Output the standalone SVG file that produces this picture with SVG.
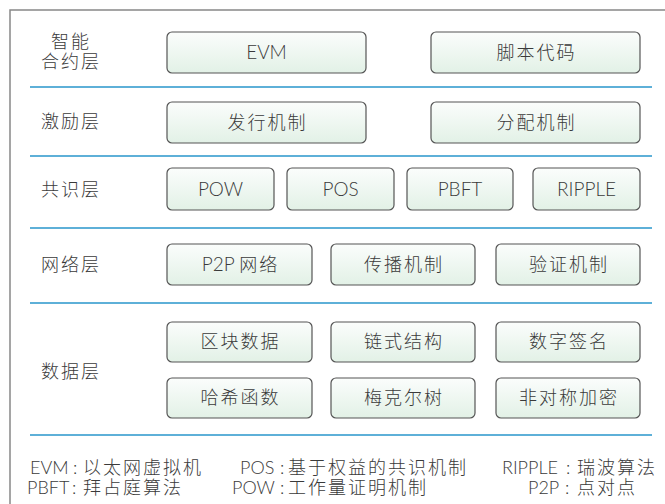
<svg xmlns="http://www.w3.org/2000/svg" width="665" height="504" viewBox="0 0 665 504">
<defs>
<linearGradient id="g" x1="0" y1="0" x2="0" y2="1">
<stop offset="0" stop-color="#fbfdfc"/>
<stop offset="1" stop-color="#e2f1e6"/>
</linearGradient>
</defs>
<style>
text{font-family:"Lato","Noto Sans CJK SC",sans-serif;font-size:18px;fill:#3a3a3a;font-weight:300}
.c{text-anchor:middle;letter-spacing:2px}
.e{text-anchor:middle;font-size:19px}
.k{letter-spacing:2px}
rect{fill:url(#g);stroke:#555;stroke-width:1.2}
.sep{stroke:#5eb0d8;stroke-width:2.2}
.frame{stroke:#888;stroke-width:1.5;fill:none}
</style>
<g id="frame">
<path class="frame" d="M10,504 V10 H665"/>
</g>
<g id="connectors">
<line class="sep" x1="30" y1="87" x2="652" y2="87"/>
<line class="sep" x1="30" y1="156" x2="652" y2="156"/>
<line class="sep" x1="30" y1="228" x2="652" y2="228"/>
<line class="sep" x1="30" y1="303" x2="652" y2="303"/>
<line class="sep" x1="30" y1="435" x2="652" y2="435"/>
</g>
<g id="labels">
<text class="c" x="71" y="48">智能</text>
<text class="c" x="71" y="68">合约层</text>
<text class="c" x="71" y="128">激励层</text>
<text class="c" x="71" y="196">共识层</text>
<text class="c" x="71" y="271">网络层</text>
<text class="c" x="71" y="378">数据层</text>
</g>
<g id="n-evm"><rect x="167" y="32" width="199" height="41" rx="5"/><text class="e" x="266.5" y="59">EVM</text></g>
<g id="n-script"><rect x="431" y="32" width="209" height="41" rx="5"/><text class="c" x="536.5" y="59">脚本代码</text></g>
<g id="n-issue"><rect x="167" y="102" width="199" height="41" rx="5"/><text class="c" x="267.5" y="129">发行机制</text></g>
<g id="n-dist"><rect x="431" y="102" width="209" height="41" rx="5"/><text class="c" x="536.5" y="129">分配机制</text></g>
<g id="n-pow"><rect x="167" y="168" width="107" height="42" rx="5"/><text class="e" x="220.5" y="196">POW</text></g>
<g id="n-pos"><rect x="287" y="168" width="107" height="42" rx="5"/><text class="e" x="340.5" y="196">POS</text></g>
<g id="n-pbft"><rect x="407" y="168" width="106" height="42" rx="5"/><text class="e" x="460" y="196">PBFT</text></g>
<g id="n-ripple"><rect x="533" y="168" width="107" height="42" rx="5"/><text class="e" x="586.5" y="196">RIPPLE</text></g>
<g id="n-p2p"><rect x="167" y="244" width="145" height="41" rx="5"/><text class="e" x="240.5" y="271">P2P <tspan class="k" style="font-size:18px">网络</tspan></text></g>
<g id="n-prop"><rect x="331" y="244" width="144" height="41" rx="5"/><text class="c" x="404" y="271">传播机制</text></g>
<g id="n-verify"><rect x="496" y="244" width="144" height="41" rx="5"/><text class="c" x="569" y="271">验证机制</text></g>
<g id="n-block"><rect x="167" y="322" width="145" height="40" rx="5"/><text class="c" x="240.5" y="348">区块数据</text></g>
<g id="n-chain"><rect x="331" y="322" width="144" height="40" rx="5"/><text class="c" x="404" y="348">链式结构</text></g>
<g id="n-sign"><rect x="496" y="322" width="144" height="40" rx="5"/><text class="c" x="569" y="348">数字签名</text></g>
<g id="n-hash"><rect x="167" y="378" width="145" height="40" rx="5"/><text class="c" x="240.5" y="404">哈希函数</text></g>
<g id="n-merkle"><rect x="331" y="378" width="144" height="40" rx="5"/><text class="c" x="404" y="404">梅克尔树</text></g>
<g id="n-asym"><rect x="496" y="378" width="144" height="40" rx="5"/><text class="c" x="569" y="404">非对称加密</text></g>
<g id="legend">
<text y="474"><tspan x="30">EVM</tspan><tspan x="73">:</tspan><tspan class="k" x="83">以太网虚拟机</tspan></text>
<text y="494"><tspan x="27">PBFT</tspan><tspan x="72">:</tspan><tspan class="k" x="83">拜占庭算法</tspan></text>
<text y="474"><tspan x="240">POS</tspan><tspan x="280">:</tspan><tspan class="k" x="288">基于权益的共识机制</tspan></text>
<text y="494"><tspan x="232">POW</tspan><tspan x="280">:</tspan><tspan class="k" x="288">工作量证明机制</tspan></text>
<text y="474"><tspan x="502">RIPPLE</tspan><tspan x="566">:</tspan><tspan class="k" x="577">瑞波算法</tspan></text>
<text y="494"><tspan x="528">P2P</tspan><tspan x="565">:</tspan><tspan class="k" x="577">点对点</tspan></text>
</g>
</svg>
